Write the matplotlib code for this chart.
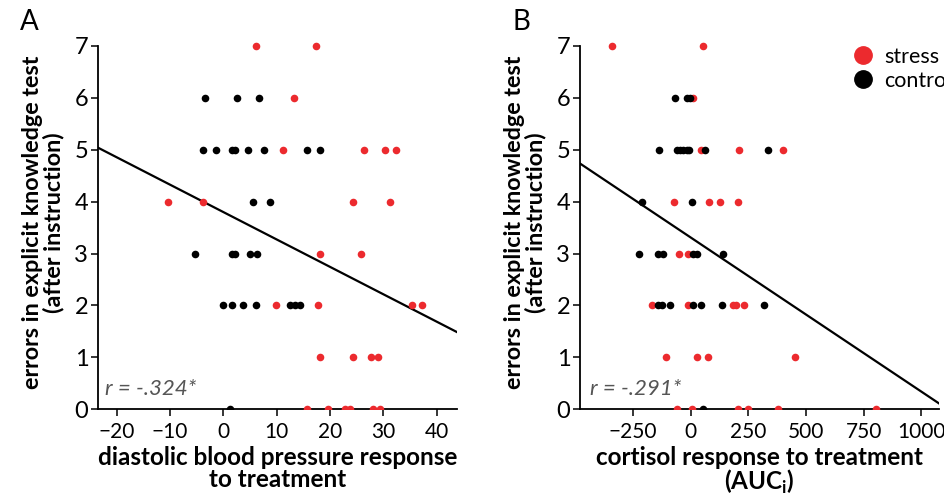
import matplotlib
matplotlib.use("Agg")
import matplotlib.pyplot as plt
from matplotlib.lines import Line2D

plt.rcParams["font.family"] = ["Lato", "DejaVu Sans"]
plt.rcParams["mathtext.fontset"] = "custom"
plt.rcParams["mathtext.bf"] = "Lato:bold"
plt.rcParams["mathtext.rm"] = "Lato"

RED = "#ec2a2e"

# Panel A: diastolic blood pressure response vs errors
a_stress_x = [6.15, 17.3, 13.2, 11.1, 26.3, 30.3, 32.3, -10.4, -3.9, 24.3, 31.3, 18.2, 25.8,
              9.8, 17.8, 35.4, 37.3, 18.2, 24.3, 27.7, 28.9, 15.7, 19.7, 22.8, 23.8, 28.1, 29.4]
a_stress_y = [7, 7, 6, 5, 5, 5, 5, 4, 4, 4, 4, 3, 3,
              2, 2, 2, 2, 1, 1, 1, 1, 0, 0, 0, 0, 0, 0]
a_ctrl_x = [-3.4, 2.6, 6.7, -3.9, -1.4, 1.6, 2.2, 4.6, 7.6, 15.7, 18.2, 5.6, 8.7,
            -5.4, 1.6, 2.2, 5.0, 6.3, 0.0, 1.7, 3.7, 6.2, 12.5, 13.4, 14.3, 1.25]
a_ctrl_y = [6, 6, 6, 5, 5, 5, 5, 5, 5, 5, 5, 4, 4,
            3, 3, 3, 3, 3, 2, 2, 2, 2, 2, 2, 2, 0]
a_fit = (3.8, -0.0528)   # intercept, slope
a_r = "r = -.324*"

# Panel B: cortisol response (AUCi) vs errors
b_stress_x = [-342, 52, 8, 45, 211, 400, -71, 79, 126, 204, -49, -13, -168, -10,
              182, 195, 230, -107, 29, 74, 451, -58, 4, 204, 250, 377, 802]
b_stress_y = [7, 7, 6, 5, 5, 5, 4, 4, 4, 4, 3, 3, 2, 2,
              2, 2, 2, 1, 1, 1, 1, 0, 0, 0, 0, 0, 0]
b_ctrl_x = [-68, -15, -5, -136, -61, -46, -32, -17, -6, 63, 336, -210, 4,
            -224, -143, -119, 11, 26, 139, -140, -126, -91, 9, 45, 134, 319, 52]
b_ctrl_y = [6, 6, 6, 5, 5, 5, 5, 5, 5, 5, 5, 4, 4,
            3, 3, 3, 3, 3, 3, 2, 2, 2, 2, 2, 2, 2, 0]
b_fit = (3.31, -0.00297)
b_r = "r = -.291*"

ylabel = "errors in explicit knowledge test\n(after instruction)"

fig = plt.figure(figsize=(9.45, 5.0), dpi=100)
axA = fig.add_axes([98 / 945, 90.7 / 500, 359 / 945, 0.7474])
axB = fig.add_axes([580 / 945, 90.7 / 500, 358.7 / 945, 0.7474])


def panel(ax, sx, sy, cx, cy, fit, xlim, xticks, rtext, rx):
    x0, x1 = xlim
    ax.plot([x0, x1], [fit[0] + fit[1] * x0, fit[0] + fit[1] * x1], color="black", lw=1.6, zorder=2)
    ax.scatter(sx, sy, s=30, color=RED, linewidths=0, zorder=3)
    ax.scatter(cx, cy, s=30, color="black", linewidths=0, zorder=4)
    ax.set_xlim(x0, x1)
    ax.set_ylim(0, 7.2)
    ax.spines["top"].set_visible(False)
    ax.spines["right"].set_visible(False)
    ax.spines["left"].set_bounds(0, 7)
    for s in ("left", "bottom"):
        ax.spines[s].set_linewidth(1.3)
    ax.set_yticks(range(8))
    ax.set_xticks(xticks)
    ax.tick_params(axis="both", width=1.1, length=5)
    ax.tick_params(axis="y", labelsize=17, pad=2)
    ax.tick_params(axis="x", labelsize=15, pad=4)
    ax.set_ylabel(ylabel, fontsize=16.8, fontweight="bold", labelpad=7, linespacing=1.0)
    ax.text(rx, 0.28, rtext, fontsize=16, style="italic", color="#555555", zorder=5)


panel(axA, a_stress_x, a_stress_y, a_ctrl_x, a_ctrl_y, a_fit, (-23.5, 43.8),
      [-20, -10, 0, 10, 20, 30, 40], a_r, -22.2)
axA.set_xlabel("diastolic blood pressure response\nto treatment", fontsize=17.5,
               fontweight="bold", labelpad=3, linespacing=0.95)

panel(axB, b_stress_x, b_stress_y, b_ctrl_x, b_ctrl_y, b_fit, (-480, 1075),
      [-250, 0, 250, 500, 750, 1000], b_r, -436)
axB.set_xlabel("cortisol response to treatment\n(AUC$_\\mathbf{i}$)", fontsize=17.5,
               fontweight="bold", labelpad=3, linespacing=0.95)

fig.text(20 / 945, 1 - 22 / 500, "A", fontsize=20, va="center", ha="left")
fig.text(513 / 945, 1 - 22 / 500, "B", fontsize=20, va="center", ha="left")

handles = [Line2D([], [], ls="", marker="o", ms=12.5, color=RED),
           Line2D([], [], ls="", marker="o", ms=12.5, color="black")]
fig.legend(handles, ["stress", "control"], loc="upper left",
           bbox_to_anchor=(843 / 945, 1 - 38 / 500), frameon=False, fontsize=15.5,
           handletextpad=0.4, labelspacing=0.2, borderaxespad=0, handlelength=1.1)

fig.savefig("out.png", dpi=100)
